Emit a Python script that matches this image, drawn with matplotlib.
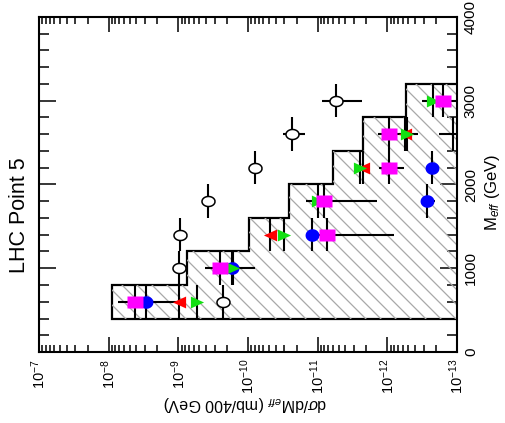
import numpy as np
import matplotlib.pyplot as plt
from matplotlib.ticker import MultipleLocator

plt.rcParams['font.family'] = 'Liberation Sans'
plt.rcParams['mathtext.fontset'] = 'custom'
plt.rcParams['mathtext.rm'] = 'Liberation Sans'
plt.rcParams['mathtext.it'] = 'Liberation Sans:italic'

# histogram (shaded), M_eff bins of 400 GeV
m_edges = [400, 800, 1200, 1600, 2000, 2400, 2800, 3200]
hist_sig = [9.0e-9, 7.5e-10, 9.7e-11, 2.6e-11, 6.0e-12, 2.2e-12, 5.4e-13]

# open circles
m_open = [600, 1000, 1400, 1800, 2200, 2600, 3000]
sig_open = [2.3e-10, 9.8e-10, 9.5e-10, 3.8e-10, 7.9e-11, 2.3e-11, 5.5e-12]
err_open = [0, 0, 0, 0, 0, 0.8e-11, 3.2e-12]

# error bar with no visible marker near the right edge
m_edge = [2600]
sig_edge = [1.15e-13]
err_edge = [0.65e-13]

# magenta squares
m_mag = [600, 1000, 1400, 1800, 2200, 2600, 3000]
sig_mag = [4.2e-9, 2.5e-10, 7.4e-12, 8.1e-12, 9.5e-13, 9.5e-13, 1.6e-13]
err_mag = [3.2e-9, 1.7e-10, 6.6e-12, 6.7e-12, 3.8e-13, 4.2e-13, 1.55e-13]

# blue circles
m_blue = [600, 1000, 1400, 1800, 2200]
sig_blue = [2.9e-9, 1.7e-10, 1.2e-11, 2.7e-13, 2.3e-13]
err_blue = [0, 0, 0, 0.6e-13, 0.5e-13]

# red triangles
m_red = [600, 1400, 2200, 2600]
sig_red = [9.8e-10, 4.9e-11, 2.2e-12, 5.6e-13]

# green triangles
m_green = [600, 1000, 1400, 1800, 2200, 2600, 3000]
sig_green = [5.4e-10, 1.65e-10, 3.0e-11, 1.0e-11, 2.5e-12, 5.2e-13, 2.2e-13]
err_green = [0, 0, 0, 0, 0, 1.6e-13, 0]

m_half = 200


def ellipse(aspect):
    t = np.linspace(0, 2 * np.pi, 41)
    return np.column_stack([aspect * np.cos(t), np.sin(t)])


square = [(-1.36, -1), (1.36, -1), (1.36, 1), (-1.36, 1), (-1.36, -1)]
tri_left = [(-1, 0), (1, 0.9), (1, -0.9), (-1, 0)]
tri_right = [(1, 0), (-1, 0.9), (-1, -0.9), (1, 0)]

fig = plt.figure(figsize=(5.05, 4.23), dpi=100)
ax_w, ax_h = 457 - 39, 352 - 17
ax = fig.add_axes([39 / 505, 1 - 352 / 423, ax_w / 505, ax_h / 423])

# shaded area, hatched with thin grey diagonals clipped to it
area = ax.stairs(hist_sig, m_edges, orientation='horizontal', baseline=1e-13, fill=True,
                 facecolor='none', edgecolor='none', linewidth=0)
for c in np.arange(0, ax_w + ax_h, 15):
    ln, = ax.plot([c / ax_w, 0], [0, c / ax_h], transform=ax.transAxes,
                  color='#a8a8a8', lw=0.9)
    ln.set_clip_path(area)
ax.stairs(hist_sig, m_edges, orientation='horizontal', baseline=1e-13,
          color='black', linewidth=1.6)

eb = dict(fmt='none', ecolor='black', elinewidth=1.5, capsize=0)
ax.errorbar(sig_blue, m_blue, xerr=err_blue, yerr=m_half, **eb)
ax.errorbar(sig_red, m_red, yerr=m_half, **eb)
ax.errorbar(sig_green, m_green, xerr=err_green, yerr=m_half, **eb)
ax.errorbar(sig_mag, m_mag, xerr=err_mag, yerr=m_half, **eb)
ax.errorbar(sig_open, m_open, xerr=err_open, yerr=m_half, **eb)
ax.errorbar(sig_edge, m_edge, xerr=err_edge, yerr=m_half, **eb)

ax.plot(sig_blue, m_blue, ls='none', marker=ellipse(1.1), ms=10, color='#0000ff', mec='none')
ax.plot(sig_red, m_red, ls='none', marker=tri_left, ms=9.5, color='#ff0000', mec='none')
ax.plot(sig_green, m_green, ls='none', marker=tri_right, ms=9.5, color='#11e011', mec='none')
ax.plot(sig_mag, m_mag, ls='none', marker=square, ms=10.8, color='#ff00ff', mec='none')
ax.plot(sig_open, m_open, ls='none', marker=ellipse(1.3), ms=9.4, mfc='white', mec='black', mew=1.1)

ax.set_xscale('log')
ax.set_xlim(1e-7, 1e-13)
ax.set_ylim(0, 4000)
ax.yaxis.set_major_locator(MultipleLocator(1000))
ax.yaxis.set_minor_locator(MultipleLocator(200))

ax.tick_params(axis='x', which='both', direction='in', top=True, bottom=True,
               labelrotation=90, labelsize=10.5, pad=5)
ax.tick_params(axis='x', which='major', length=11, width=1.1)
ax.tick_params(axis='x', which='minor', length=5, width=1.1)
ax.tick_params(axis='y', which='both', direction='in', left=True, right=True,
               labelleft=False, labelright=True, labelrotation=90, labelsize=11, pad=5)
ax.tick_params(axis='y', which='major', length=12, width=1.1)
ax.tick_params(axis='y', which='minor', length=7, width=1.1)
for tick in ax.yaxis.get_major_ticks():
    tick.label2.set_va('center')

for sp in ax.spines.values():
    sp.set_linewidth(1.5)

# labels (the whole plot is turned on its side)
fig.text(20 / 505, 1 - 215 / 423, 'LHC Point 5', rotation=90, fontsize=15.5,
         ha='center', va='center')
fig.text(492 / 505, 1 - 192 / 423, r'M$_{eff}$ (GeV)', rotation=90, fontsize=12,
         ha='center', va='center')
fig.text(245 / 505, 1 - 403 / 423, r'd$\sigma$/dM$_{eff}$ (mb/400 GeV)', rotation=180,
         fontsize=11.5, ha='center', va='center')

plt.savefig('out.png', dpi=100)
